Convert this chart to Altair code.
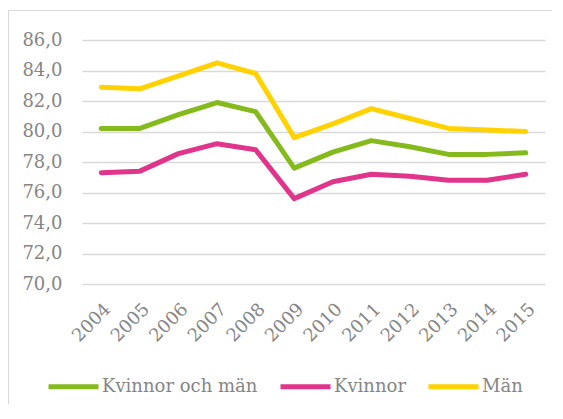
import altair as alt
import pandas as pd

years = [str(y) for y in range(2004, 2016)]
kvinnor_och_man = [80.2, 80.2, 81.1, 81.9, 81.3, 77.6, 78.65, 79.4, 79.0, 78.5, 78.5, 78.6]
kvinnor = [77.3, 77.4, 78.55, 79.2, 78.8, 75.6, 76.7, 77.2, 77.07, 76.8, 76.8, 77.2]
man = [82.9, 82.8, 83.65, 84.5, 83.8, 79.6, 80.5, 81.5, 80.85, 80.2, 80.1, 80.0]

series_names = ["Kvinnor och män", "Kvinnor", "Män"]
series_colors = ["#84BA1C", "#E0358A", "#FFD200"]
y_ticks = [70, 72, 74, 76, 78, 80, 82, 84, 86]

rows = []
for name, vals in zip(series_names, [kvinnor_och_man, kvinnor, man]):
    for yr, v in zip(years, vals):
        rows.append({"year": yr, "value": v, "series": name})
df = pd.DataFrame(rows)

FONT = "DejaVu Serif"
GREY = "#858585"

lines = alt.Chart(df).mark_line(strokeWidth=5, strokeCap="round", strokeJoin="round").encode(
    x=alt.X("year:O", title=None, sort=years,
            axis=alt.Axis(labelAngle=-45, labelPadding=16, ticks=False, domain=False,
                          grid=False, labelFont=FONT, labelFontSize=18, labelColor=GREY)),
    y=alt.Y("value:Q", title=None,
            scale=alt.Scale(domain=[70, 86], nice=False, zero=False),
            axis=alt.Axis(values=y_ticks, labelExpr="replace(format(datum.value, '.1f'), '.', ',')",
                          ticks=False, domain=False, gridColor="#d9d9d9", gridWidth=1.5,
                          labelPadding=20, labelFont=FONT, labelFontSize=18, labelColor=GREY)),
    color=alt.Color("series:N", sort=series_names,
                    scale=alt.Scale(domain=series_names, range=series_colors),
                    legend=alt.Legend(title=None, orient="none", direction="horizontal",
                                      legendX=-36, legendY=319, symbolType="stroke",
                                      symbolSize=2500, symbolStrokeWidth=5,
                                      labelFont=FONT, labelFontSize=18, labelColor=GREY,
                                      labelOffset=1, columnPadding=12, padding=0,
                                      labelLimit=400)),
    order=alt.Order("series_order:Q"),
).transform_calculate(
    series_order="indexof(['Kvinnor och män','Kvinnor','Män'], datum.series)"
)

border_data = alt.Data(values=[{"a": 1}])
left_border = alt.Chart(border_data).mark_rule(color="#d9d9d9", strokeWidth=1).encode(
    x=alt.value(-73.5), y=alt.value(-29.5), y2=alt.value(364)
)
top_border = alt.Chart(border_data).mark_rule(color="#d9d9d9", strokeWidth=1).encode(
    x=alt.value(-73.5), x2=alt.value(470), y=alt.value(-29.5)
)

chart = alt.layer(left_border, top_border, lines).properties(
    width=463, height=244,
    background="white",
    autosize=alt.AutoSizeParams(type="none"),
    padding={"left": 74, "top": 32, "right": 10, "bottom": 120},
).configure_view(stroke="transparent")

chart.save("out.html", embed_options={"renderer": "svg", "actions": False})
